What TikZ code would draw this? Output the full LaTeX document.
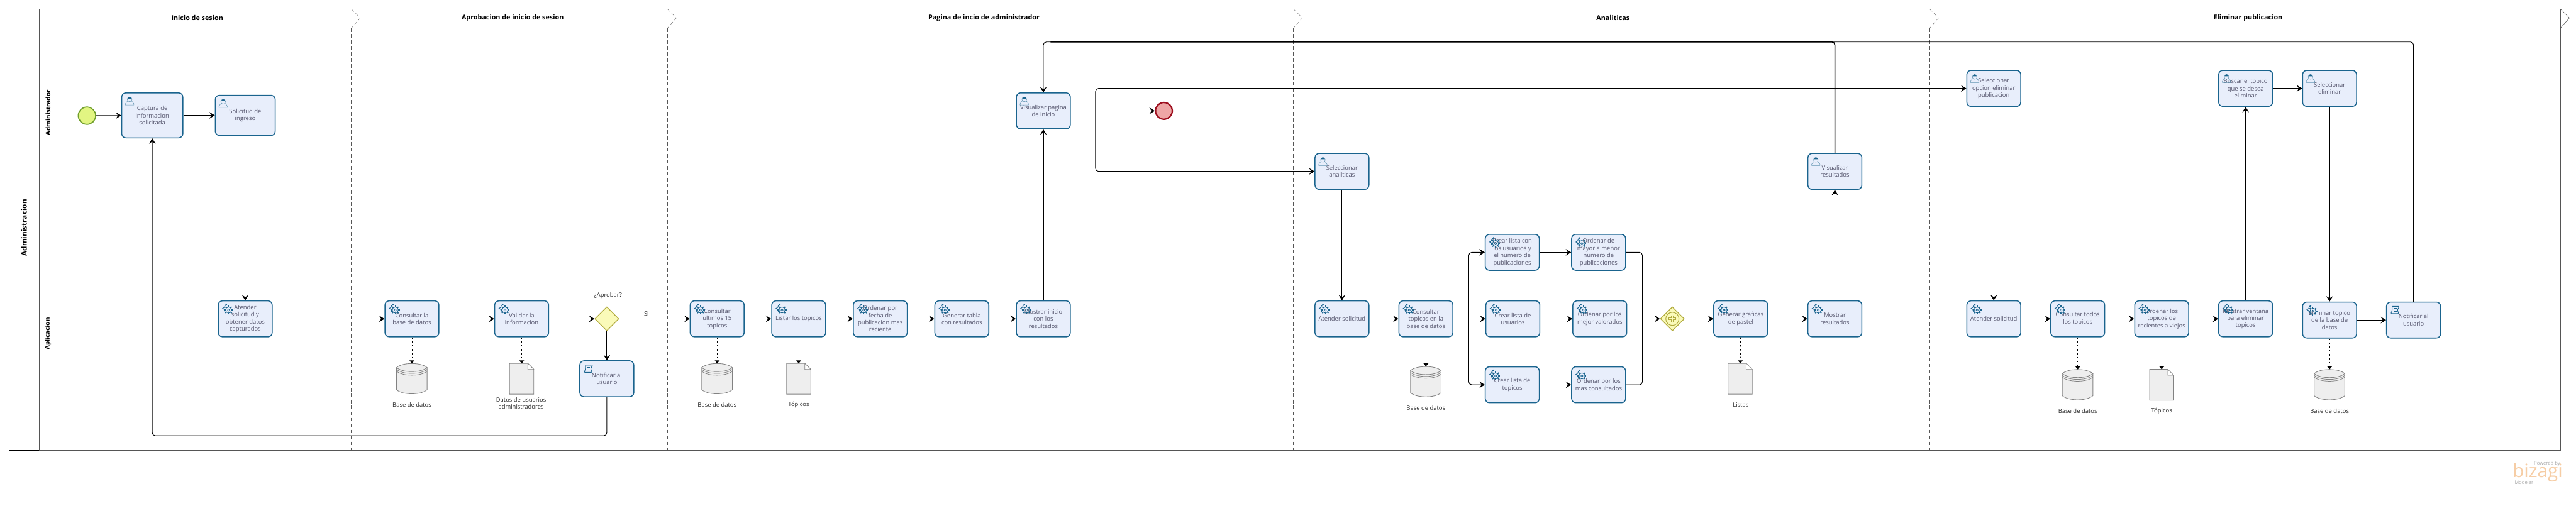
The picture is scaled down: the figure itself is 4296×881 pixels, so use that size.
\documentclass[tikz,border=0pt]{standalone}
\usepackage{fontspec}
\setmainfont{Open Sans}
\usepackage{xcolor}
\usepackage{tikz}
\usetikzlibrary{arrows.meta,shapes.geometric}
\definecolor{taskblue}{RGB}{26,100,142}
\definecolor{taskfill}{RGB}{232,238,251}
\definecolor{taskink}{RGB}{84,84,108}
\definecolor{laneline}{RGB}{85,85,85}
\definecolor{gateline}{RGB}{176,170,60}
\definecolor{gatefill}{RGB}{250,250,185}
\definecolor{startline}{RGB}{112,158,44}
\definecolor{startfill}{RGB}{226,245,130}
\definecolor{endline}{RGB}{158,16,32}
\definecolor{endfill}{RGB}{238,166,166}
\definecolor{storeline}{RGB}{130,130,130}
\definecolor{storefill}{RGB}{238,238,238}
\definecolor{bizorange}{RGB}{246,205,165}

\begin{document}
\begin{tikzpicture}[
    x=1pt, y=-1pt,
    task/.style={draw=taskblue, line width=1.6pt, rounded corners=7pt, fill=taskfill, text=taskink,
        minimum height=60pt, inner sep=0pt, align=center, font=\fontsize{9.9}{12}\selectfont},
    taskwide/.style={task, minimum width=90pt},
    gate/.style={diamond, draw=gateline, line width=1.3pt, fill=gatefill, minimum width=40pt, minimum height=40pt, inner sep=0pt},
    flow/.style={->, line width=1pt, rounded corners=5pt},
    assoc/.style={-{Stealth[length=5pt,width=8pt,inset=0pt]}, line width=1pt, dash pattern=on 2.5pt off 4pt},
    dbstore/.style={minimum width=51pt, minimum height=51pt, inner sep=0pt},
    docstore/.style={minimum width=40pt, minimum height=51pt, inner sep=0pt},
    datalabel/.style={align=center, text=black!85, font=\fontsize{9.9}{12}\selectfont},
    phasetitle/.style={font=\fontsize{11.3}{13}\selectfont\bfseries},
    lanetitle/.style={rotate=90, font=\fontsize{10.5}{12}\selectfont\bfseries},
    gearicon/.pic={
        \draw[taskblue, line width=1pt] (2,1) circle (5);
        \draw[taskblue, line width=.8pt] (2,1) circle (1.8);
        \foreach \a in {0,45,...,315} \draw[taskblue, line width=1.7pt] (2,1) ++(\a:4.8) -- ++(\a:2.6);
        \draw[taskblue, line width=1pt] (-1,-8) .. controls (-4,-7) and (-5,-6) .. (-5,-3.5) -- (-8,-1.5) -- (-5,0) .. controls (-5,1.5) and (-5,3) .. (-4,4);
        \draw[taskblue, line width=1.6pt] (-3.5,-6.5) -- (-1,-9);
    },
    usericon/.pic={
        \draw[taskblue!70, line width=.6pt] (-7,7) -- (-7,5) .. controls (-7,2) and (-3,2) .. (-3,0) -- (3,0) .. controls (3,2) and (7,2) .. (7,5) -- (7,7) -- cycle;
        \draw[taskblue!70, fill=taskfill, line width=.6pt] (0,-2.5) circle (4);
        \fill[taskblue] (-3.2,-3.5) .. controls (-3,-7.5) and (3,-7.5) .. (3.2,-3.5) -- cycle;
    },
    scripticon/.pic={
        \draw[taskblue, line width=1pt, rounded corners=1pt] (-5,-6) -- (7,-6) -- (4,0) -- (6,6) -- (-7,6) -- (-5,1) -- cycle;
        \draw[taskblue, line width=.9pt] (-2,-2.5) -- (3,-2.5) (-2,2) -- (3,2);
    },
    >={Stealth[length=9pt,width=11pt,inset=3.5pt]}
]
\useasboundingbox (0,0) rectangle (4296,881);

% Pool and lanes
\draw[black, line width=.9pt] (65,15) -- (15,15) -- (15,751) -- (65,751);
\draw[laneline, line width=.9pt] (65,15) -- (4270,15) -- (4270,751) -- (65,751) -- cycle;
\draw[laneline, line width=.9pt] (65,365) -- (4270,365);
\node[rotate=90, font=\fontsize{12.4}{15}\selectfont\bfseries] (pooltitle) at (40,380) {Administracion};
\node[lanetitle] (laneadmin) at (80,188) {Administrador};
\node[lanetitle] (laneapp) at (80,557) {Aplicacion};

% Phases
\foreach \x in {586,1113,2157,3218}{
    \draw[laneline, line width=.7pt, dash pattern=on 6pt off 4pt] (\x,47) -- (\x,751);
    \draw[laneline, line width=.4pt, dash pattern=on 6pt off 4pt] (\x,15) -- (\x+15,30) -- (\x,47);
}
\draw[laneline, line width=.6pt] (4270,15) -- (4285,30) -- (4270,47);
\node[phasetitle] (phaseone) at (329,30) {Inicio de sesion};
\node[phasetitle] (phasetwo) at (855,30) {Aprobacion de inicio de sesion};
\node[phasetitle] (phasethree) at (1641,30) {Pagina de incio de administrador};
\node[phasetitle] (phasefour) at (2690,30) {Analiticas};
\node[phasetitle] (phasefive) at (3749,30) {Eliminar publicacion};

% Inicio de sesion
\node[circle, draw=startline, line width=1.8pt, fill=startfill, minimum size=29pt, inner sep=0pt] (inicio) at (145,193) {};
\node[task, minimum width=102pt, minimum height=75pt] (capinfo) at (254,192.5) {Captura de\\informacion\\solicitada};
\node[task, minimum width=100pt, minimum height=67pt] (soling) at (409,192.5) {Solicitud de\\ingreso};
\node[taskwide] (atedat) at (409,532) {Atender\\solicitud y\\obtener datos\\capturados};

% Aprobacion
\node[taskwide] (conbd) at (687,532) {Consultar la\\base de datos};
\node[taskwide] (valinf) at (870,532) {Validar la\\informacion};
\node[gate] (gwapr) at (1012,532) {};
\node[taskwide] (notadm) at (1012,632) {Notificar al\\usuario};
\node[dbstore] (bdsesion) at (687,632) {};
\node[docstore] (docadm) at (870,632) {};
\node[datalabel] (lblbdsesion) at (687,675.5) {Base de datos};
\node[datalabel] (lbldocadm) at (869,673) {Datos de usuarios\\administradores};
\node[datalabel] (lblaprobar) at (1014,493) {¿Aprobar?};
\node[datalabel] (lblsi) at (1078,523) {Si};

% Pagina de inicio
\node[taskwide] (conult) at (1196,532) {Consultar\\ultimos 15\\topicos};
\node[taskwide] (listop) at (1332,532) {Listar los topicos};
\node[taskwide] (ordfec) at (1468,532) {Ordenar por\\fecha de\\publicacion mas\\reciente};
\node[taskwide] (gentab) at (1604,532) {Generar tabla\\con resultados};
\node[taskwide] (mosini) at (1740,532) {Mostrar inicio\\con los\\resultados};
\node[taskwide] (vispag) at (1740,185) {Visualizar pagina\\de inicio};
\node[circle, draw=endline, line width=2.4pt, fill=endfill, minimum size=28pt, inner sep=0pt] (fin) at (1941,185) {};
\node[dbstore] (bdinicio) at (1196,632) {};
\node[docstore] (doctop) at (1332,632) {};
\node[datalabel] (lblbdinicio) at (1196,675.5) {Base de datos};
\node[datalabel] (lbldoctop) at (1332,675.5) {Tópicos};

% Analiticas
\node[taskwide] (selana) at (2238,286) {Seleccionar\\analiticas};
\node[taskwide] (atesol) at (2238,532) {Atender solicitud};
\node[taskwide] (contop) at (2378,532) {Consultar\\topicos en la\\base de datos};
\node[taskwide] (crelis) at (2522,421) {Crear lista con\\los usuarios y\\el numero de\\publicaciones};
\node[taskwide] (ordmay) at (2666,421) {Ordenar de\\mayor a menor\\numero de\\publicaciones};
\node[taskwide] (creusu) at (2523,532) {Crear lista de\\usuarios};
\node[taskwide] (ordval) at (2668,532) {Ordenar por los\\mejor valorados};
\node[taskwide] (cretop) at (2522,642) {Crear lista de\\topicos};
\node[taskwide] (ordcon) at (2666,642) {Ordenar por los\\mas consultados};
\node[gate] (gwpar) at (2789,532) {};
\node[taskwide] (gengraf) at (2903,532) {Generar graficas\\de pastel};
\node[taskwide] (mosres) at (3060,532) {Mostrar\\resultados};
\node[taskwide] (visres) at (3060,286) {Visualizar\\resultados};
\node[dbstore] (bdanal) at (2378,637) {};
\node[docstore] (doclis) at (2902,632) {};
\node[datalabel] (lblbdanal) at (2378,681) {Base de datos};
\node[datalabel] (lbldoclis) at (2903,676) {Listas};
\draw[gateline, line width=1.1pt, fill=gatefill] (gwpar.center) circle (11);
\draw[gateline, line width=4.4pt] (2789,526) -- (2789,538) (2783,532) -- (2795,532);
\draw[gatefill, line width=2.4pt] (2789,527) -- (2789,537) (2784,532) -- (2794,532);

% Eliminar publicacion
\node[taskwide] (selopc) at (3325,147.5) {Seleccionar\\opcion eliminar\\publicacion};
\node[taskwide] (busto) at (3745,147.5) {Buscar el topico\\que se desea\\eliminar};
\node[taskwide] (seleli) at (3885,147.5) {Seleccionar\\eliminar};
\node[taskwide] (ateeli) at (3325,532) {Atender solicitud};
\node[taskwide] (contod) at (3465,532) {Consultar todos\\los topicos};
\node[taskwide] (ordrec) at (3605,532) {Ordenar los\\topicos de\\recientes a viejos};
\node[taskwide] (mosven) at (3745,532) {Mostrar ventana\\para eliminar\\topicos};
\node[taskwide] (elitop) at (3885,534) {Eliminar topico\\de la base de\\datos};
\node[taskwide] (notusu) at (4025,534) {Notificar al\\usuario};
\node[dbstore] (bdtod) at (3465,642) {};
\node[docstore] (docrec) at (3605,642) {};
\node[dbstore] (bdeli) at (3885,642) {};
\node[datalabel] (lblbdtod) at (3465,686) {Base de datos};
\node[datalabel] (lbldocrec) at (3605,686) {Tópicos};
\node[datalabel] (lblbdeli) at (3885,686) {Base de datos};

% Store details
\foreach \n in {bdsesion,bdinicio,bdanal,bdtod,bdeli}{
    \draw[storeline, line width=.9pt, fill=storefill] (\n.north west) ++(0,7) -- ++(0,37) .. controls +(10,9) and +(-10,9) .. ++(51,0) -- ++(0,-37);
    \draw[storeline, line width=.9pt, fill=storefill] (\n.north west) ++(0,7) .. controls +(10,-9) and +(-10,-9) .. ++(51,0) .. controls +(-10,9) and +(10,9) .. ++(-51,0) -- cycle;
    \foreach \d in {3,6}
        \draw[storeline, line width=.8pt] (\n.north west) ++(0,7+\d) .. controls +(10,9) and +(-10,9) .. ++(51,0);
}
\foreach \n in {docadm,doctop,doclis,docrec}{
    \draw[storeline, line width=.9pt, fill=storefill] (\n.north west) -- ([xshift=-10pt]\n.north east) -- ([yshift=-10pt]\n.north east) -- (\n.south east) -- (\n.south west) -- cycle;
    \draw[storeline, line width=.6pt, fill=white] ([xshift=-10pt]\n.north east) -- ([yshift=-10pt]\n.north east) -- ([xshift=-10pt,yshift=-10pt]\n.north east) -- cycle;
}

% Task icons
\foreach \n in {capinfo,soling,vispag,selana,visres,selopc,busto,seleli}
    \pic at ([shift={(14,14)}]\n.north west) {usericon};
\foreach \n in {atedat,conbd,valinf,conult,listop,ordfec,gentab,mosini,atesol,contop,crelis,ordmay,creusu,ordval,cretop,ordcon,gengraf,mosres,ateeli,contod,ordrec,mosven,elitop}
    \pic at ([shift={(16,15)}]\n.north west) {gearicon};
\foreach \n in {notadm,notusu}
    \pic at ([shift={(15,14)}]\n.north west) {scripticon};

% Sequence flows
\coordinate (retorno) at (600,727);
\coordinate (arriba) at (1752,70);
\coordinate (ramal) at (1827,185);
\coordinate (abre) at (2449.5,532);
\coordinate (cierra) at (2739,532);

\draw[flow] (inicio) -- (capinfo);
\draw[flow] (capinfo) -- (soling);
\draw[flow] (soling) -- (atedat);
\draw[flow] (atedat) -- (conbd);
\draw[flow] (conbd) -- (valinf);
\draw[flow] (valinf) -- (gwapr);
\draw[flow] (gwapr) -- (notadm);
\draw[flow] (gwapr) -- (conult);
\draw[flow] (notadm.south) |- (retorno) -| (capinfo.south);
\draw[flow] (conult) -- (listop);
\draw[flow] (listop) -- (ordfec);
\draw[flow] (ordfec) -- (gentab);
\draw[flow] (gentab) -- (mosini);
\draw[flow] (mosini) -- (vispag);
\draw[flow] (vispag) -- (fin);
\draw[flow] (ramal) |- (selana);
\draw[flow] (ramal) |- (selopc);
\draw[flow] (selana) -- (atesol);
\draw[flow] (atesol) -- (contop);
\draw[flow] (contop) -- (creusu);
\draw[flow] (abre) |- (crelis);
\draw[flow] (abre) |- (cretop);
\draw[flow] (crelis) -- (ordmay);
\draw[flow] (creusu) -- (ordval);
\draw[flow] (cretop) -- (ordcon);
\draw[flow, -] (ordmay.east) -| (cierra);
\draw[flow, -] (ordcon.east) -| (cierra);
\draw[flow] (ordval) -- (gwpar);
\draw[flow] (gwpar) -- (gengraf);
\draw[flow] (gengraf) -- (mosres);
\draw[flow] (mosres) -- (visres);
\draw[flow, -, line width=1.7pt] (visres.north) |- (arriba);
\draw[flow] (notusu.north) |- (arriba) -| (vispag.north);
\draw[flow] (selopc) -- (ateeli);
\draw[flow] (ateeli) -- (contod);
\draw[flow] (contod) -- (ordrec);
\draw[flow] (ordrec) -- (mosven);
\draw[flow] (mosven) -- (busto);
\draw[flow] (busto) -- (seleli);
\draw[flow] (seleli) -- (elitop);
\draw[flow] (elitop) -- (notusu);

% Data associations
\draw[assoc] (conbd) -- (bdsesion);
\draw[assoc] (valinf) -- (docadm);
\draw[assoc] (conult) -- (bdinicio);
\draw[assoc] (listop) -- (doctop);
\draw[assoc] (contop) -- (bdanal);
\draw[assoc] (gengraf) -- (doclis);
\draw[assoc] (contod) -- (bdtod);
\draw[assoc] (ordrec) -- (docrec);
\draw[assoc] (elitop) -- (bdeli);

% Watermark
\node[text=black!35, font=\fontsize{8}{9}\selectfont, anchor=east] (powered) at (4273,773) {Powered by};
\node[text=bizorange, font=\fontsize{31}{32}\selectfont] (bizagi) at (4232,788) {bizagi};
\node[text=black!35, font=\fontsize{8}{9}\selectfont, anchor=west] (modeler) at (4190,805) {Modeler};
\end{tikzpicture}
\end{document}
